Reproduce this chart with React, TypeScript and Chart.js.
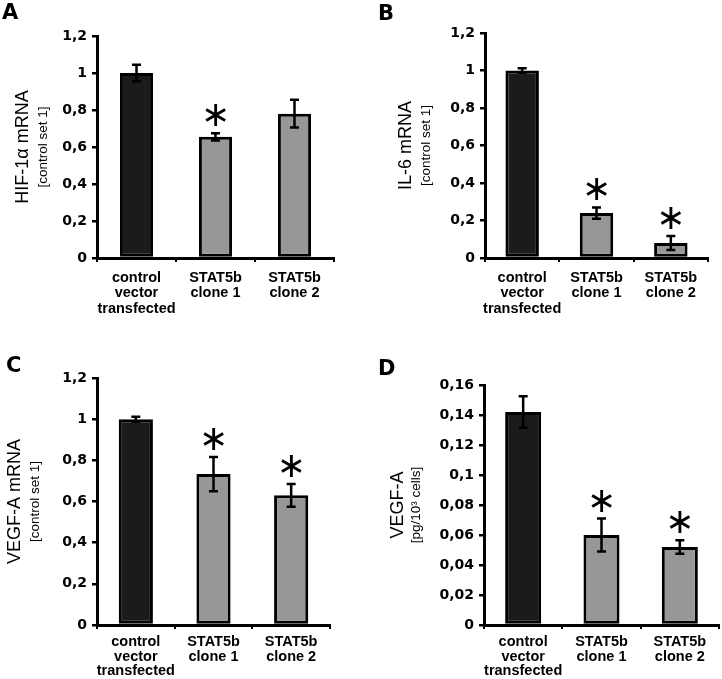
import React, { useEffect, useRef } from "react";
import { Chart, registerables } from "chart.js";

Chart.register(...registerables);

// ---------- data ----------
const categories = [
  ["control", "vector", "transfected"],
  ["STAT5b", "clone 1"],
  ["STAT5b", "clone 2"],
];

const hifValues = [1.0, 0.655, 0.78];
const hifErrors = [0.045, 0.02, 0.075];
const hifSignificant = [false, true, false];

const il6Values = [1.0, 0.24, 0.08];
const il6Errors = [0.012, 0.03, 0.037];
const il6Significant = [false, true, true];

const vegfMrnaValues = [1.0, 0.733, 0.63];
const vegfMrnaErrors = [0.012, 0.083, 0.055];
const vegfMrnaSignificant = [false, true, true];

const vegfProteinValues = [0.142, 0.06, 0.052];
const vegfProteinErrors = [0.0105, 0.011, 0.0045];
const vegfProteinSignificant = [false, true, true];

const mrnaAxisMax = 1.2;
const mrnaAxisStep = 0.2;
const proteinAxisMax = 0.16;
const proteinAxisStep = 0.02;

// ---------- styles ----------
const barFills = ["#1b1b1b", "#979797", "#979797"];
const TICK_FONT = '"DejaVu Sans", sans-serif';
const LABEL_FONT = '"Liberation Sans", Arial, sans-serif';

type PanelCfg = {
  letter: string;
  title: string;
  subtitle: string;
  values: number[];
  errors: number[];
  significant: boolean[];
  max: number;
  step: number;
  box: { left: number; top: number; width: number; height: number };
  area: { left: number; right: number; top: number; bottom: number };
  letterPos: { x: number; y: number };
  titleX: number;
  subX: number;
  barPct: number;
  labelPad: number;
  labelLH: number;
};

const panels: PanelCfg[] = [
  {
    letter: "A",
    title: "HIF-1α mRNA",
    subtitle: "[control set 1]",
    values: hifValues,
    errors: hifErrors,
    significant: hifSignificant,
    max: mrnaAxisMax,
    step: mrnaAxisStep,
    box: { left: 0, top: 0, width: 361, height: 330 },
    area: { left: 97, right: 334, top: 36, bottom: 258 },
    letterPos: { x: 2, y: 19 },
    titleX: 28,
    subX: 47,
    barPct: 0.42,
    labelPad: 8,
    labelLH: 1.08,
  },
  {
    letter: "B",
    title: "IL-6 mRNA",
    subtitle: "[control set 1]",
    values: il6Values,
    errors: il6Errors,
    significant: il6Significant,
    max: mrnaAxisMax,
    step: mrnaAxisStep,
    box: { left: 361, top: 0, width: 361, height: 330 },
    area: { left: 124, right: 347, top: 33, bottom: 258 },
    letterPos: { x: 17, y: 20 },
    titleX: 50,
    subX: 69,
    barPct: 0.45,
    labelPad: 8,
    labelLH: 1.08,
  },
  {
    letter: "C",
    title: "VEGF-A mRNA",
    subtitle: "[control set 1]",
    values: vegfMrnaValues,
    errors: vegfMrnaErrors,
    significant: vegfMrnaSignificant,
    max: mrnaAxisMax,
    step: mrnaAxisStep,
    box: { left: 0, top: 330, width: 361, height: 349 },
    area: { left: 97, right: 330, top: 48, bottom: 295 },
    letterPos: { x: 6, y: 42 },
    titleX: 20,
    subX: 39,
    barPct: 0.44,
    labelPad: 6,
    labelLH: 1.0,
  },
  {
    letter: "D",
    title: "VEGF-A",
    subtitle: "[pg/10³ cells]",
    values: vegfProteinValues,
    errors: vegfProteinErrors,
    significant: vegfProteinSignificant,
    max: proteinAxisMax,
    step: proteinAxisStep,
    box: { left: 361, top: 330, width: 361, height: 349 },
    area: { left: 123, right: 358, top: 55, bottom: 295 },
    letterPos: { x: 17, y: 45 },
    titleX: 42,
    subX: 59,
    barPct: 0.46,
    labelPad: 6,
    labelLH: 1.0,
  },
];

function drawAsterisk(ctx: CanvasRenderingContext2D, cx: number, cy: number) {
  const ch = "∗";
  ctx.font = '100px "DejaVu Sans"';
  const m = ctx.measureText(ch);
  const w = m.actualBoundingBoxLeft + m.actualBoundingBoxRight;
  const size = (100 * 21) / (w || 21);
  ctx.font = `${size}px "DejaVu Sans"`;
  const m2 = ctx.measureText(ch);
  ctx.textAlign = "left";
  ctx.textBaseline = "alphabetic";
  const gx = cx - (m2.actualBoundingBoxRight - m2.actualBoundingBoxLeft) / 2;
  const gy = cy + (m2.actualBoundingBoxAscent - m2.actualBoundingBoxDescent) / 2;
  ctx.fillStyle = "#000";
  ctx.fillText(ch, gx, gy);
}

function Panel({ cfg }: { cfg: PanelCfg }) {
  const ref = useRef<HTMLCanvasElement>(null);
  useEffect(() => {
    const canvas = ref.current!;
    const { box, area } = cfg;
    const annot = {
      id: "annot",
      afterDatasetsDraw(chart: any) {
        const ctx: CanvasRenderingContext2D = chart.ctx;
        const meta = chart.getDatasetMeta(0);
        const ys = chart.scales.y;
        ctx.save();
        cfg.values.forEach((v, i) => {
          const x = meta.data[i].x;
          const top = ys.getPixelForValue(v + cfg.errors[i]);
          const bot = ys.getPixelForValue(v - cfg.errors[i]);
          ctx.strokeStyle = "#000";
          ctx.lineWidth = 2.5;
          ctx.beginPath();
          ctx.moveTo(x, top);
          ctx.lineTo(x, bot);
          ctx.moveTo(x - 4.5, top);
          ctx.lineTo(x + 4.5, top);
          ctx.moveTo(x - 4.5, bot);
          ctx.lineTo(x + 4.5, bot);
          ctx.stroke();
          if (cfg.significant[i]) drawAsterisk(ctx, x, top - 18);
        });
        ctx.restore();
      },
      afterDraw(chart: any) {
        const ctx: CanvasRenderingContext2D = chart.ctx;
        const yc = (chart.chartArea.top + chart.chartArea.bottom) / 2;
        ctx.save();
        ctx.fillStyle = "#000";
        ctx.font = 'bold 21px "DejaVu Sans"';
        ctx.textAlign = "left";
        ctx.textBaseline = "alphabetic";
        ctx.fillText(cfg.letter, cfg.letterPos.x, cfg.letterPos.y);

        ctx.save();
        ctx.translate(cfg.titleX, yc);
        ctx.rotate(-Math.PI / 2);
        ctx.textAlign = "center";
        ctx.font = `18px ${LABEL_FONT}`;
        ctx.fillText(cfg.title, 0, 0);
        ctx.restore();

        ctx.save();
        ctx.translate(cfg.subX, yc);
        ctx.rotate(-Math.PI / 2);
        ctx.textAlign = "center";
        ctx.font = `13.5px ${LABEL_FONT}`;
        ctx.fillText(cfg.subtitle, 0, 0);
        ctx.restore();
        ctx.restore();
      },
    };

    const chart = new Chart(canvas, {
      type: "bar",
      data: {
        labels: categories as any,
        datasets: [
          {
            data: cfg.values,
            backgroundColor: barFills,
            borderColor: "#000",
            borderWidth: 3,
            borderSkipped: false,
            barPercentage: cfg.barPct,
            categoryPercentage: 1,
          } as any,
        ],
      },
      options: {
        responsive: false,
        animation: false,
        devicePixelRatio: 1,
        layout: {
          padding: { top: area.top, right: box.width - area.right, left: 0, bottom: 0 },
        },
        plugins: { legend: { display: false }, tooltip: { enabled: false } },
        scales: {
          x: {
            grid: {
              drawOnChartArea: false,
              drawTicks: true,
              tickLength: 4,
              color: "#000",
              lineWidth: 2,
              offset: true,
            },
            border: { display: true, color: "#000", width: 3 },
            ticks: {
              color: "#000",
              font: { family: LABEL_FONT, size: 14.5, weight: "bold", lineHeight: cfg.labelLH },
              maxRotation: 0,
              minRotation: 0,
              autoSkip: false,
              padding: cfg.labelPad,
            },
            afterFit(s: any) {
              s.height = box.height - area.bottom;
            },
          },
          y: {
            min: 0,
            max: cfg.max,
            grid: {
              drawOnChartArea: false,
              drawTicks: true,
              tickLength: 5,
              color: "#000",
              lineWidth: 2.5,
            },
            border: { display: true, color: "#000", width: 3 },
            ticks: {
              stepSize: cfg.step,
              color: "#000",
              font: { family: TICK_FONT, size: 14, weight: "bold" },
              padding: 5,
              callback: (v: any) => String(Math.round(Number(v) * 1000) / 1000).replace(".", ","),
            },
            afterFit(s: any) {
              s.width = area.left;
            },
          },
        },
      } as any,
      plugins: [annot],
    });
    return () => chart.destroy();
  }, [cfg]);

  return (
    <canvas
      ref={ref}
      width={cfg.box.width}
      height={cfg.box.height}
      style={{
        position: "absolute",
        left: cfg.box.left,
        top: cfg.box.top,
        width: cfg.box.width,
        height: cfg.box.height,
      }}
    />
  );
}

export default function App() {
  useEffect(() => {
    document.body.style.margin = "0";
    document.body.style.overflow = "hidden";
  }, []);
  return (
    <div
      style={{
        position: "absolute",
        left: 0,
        top: 0,
        width: 722,
        height: 679,
        background: "#fff",
        overflow: "hidden",
      }}
    >
      {panels.map((p) => (
        <Panel key={p.letter} cfg={p} />
      ))}
    </div>
  );
}
